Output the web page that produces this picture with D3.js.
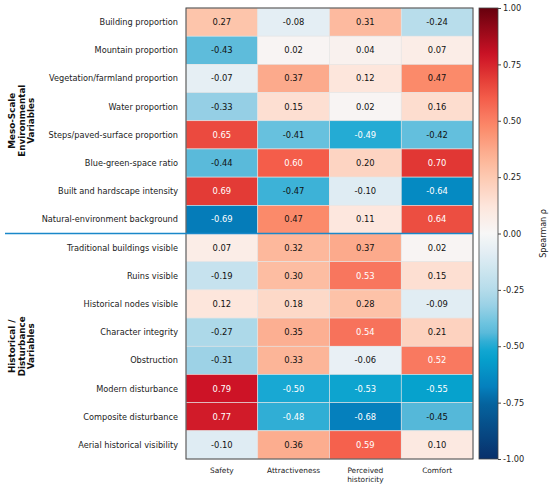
<!DOCTYPE html>
<html>
<head>
<meta charset="utf-8">
<script src="https://cdn.jsdelivr.net/npm/d3@7"></script>
<style>
  body { margin: 0; background: #fff; }
  text { font-family: "DejaVu Sans", sans-serif; }
</style>
</head>
<body>
<div id="chart"></div>
<script>
// Data
const rowLabels = [
    'Building proportion', 'Mountain proportion', 'Vegetation/farmland proportion',
    'Water proportion', 'Steps/paved-surface proportion', 'Blue-green-space ratio',
    'Built and hardscape intensity', 'Natural-environment background',
    'Traditional buildings visible', 'Ruins visible', 'Historical nodes visible',
    'Character integrity', 'Obstruction', 'Modern disturbance',
    'Composite disturbance', 'Aerial historical visibility'
];
const colLabels = ['Safety', 'Attractiveness', 'Perceived historicity', 'Comfort'];
const safety = [0.27, -0.43, -0.07, -0.33, 0.65, -0.44, 0.69, -0.69, 0.07, -0.19, 0.12, -0.27, -0.31, 0.79, 0.77, -0.10];
const attractiveness = [-0.08, 0.02, 0.37, 0.15, -0.41, 0.60, -0.47, 0.47, 0.32, 0.30, 0.18, 0.35, 0.33, -0.50, -0.48, 0.36];
const historicity = [0.31, 0.04, 0.12, 0.02, -0.49, 0.20, -0.10, 0.11, 0.37, 0.53, 0.28, 0.54, -0.06, -0.53, -0.68, 0.59];
const comfort = [-0.24, 0.07, 0.47, 0.16, -0.42, 0.70, -0.64, 0.64, 0.02, 0.15, -0.09, 0.21, 0.52, -0.55, -0.45, 0.10];
const groups = [
    {lines: ['Meso-Scale', 'Environmental', 'Variables'], from: 0, to: 7},
    {lines: ['Historical /', 'Disturbance', 'Variables'], from: 8, to: 15}
];
const cbTicks = [-1, -0.75, -0.5, -0.25, 0, 0.25, 0.5, 0.75, 1];

// Colormap stops (diverging, blue -> white -> red)
const cmapDomain = [-1, -0.75, -0.68, -0.55, -0.5, -0.45, -0.4, -0.33, -0.25, -0.1, 0, 0.12, 0.27, 0.37, 0.47, 0.53, 0.6, 0.69, 0.79, 1];
const cmapRange = ['#08306b', '#05649f', '#0580bd', '#06a2cd', '#18a8d3', '#55b8d9', '#6cc3df', '#95cfe5', '#b5dcea', '#dfecf3',
                   '#f7f7f7', '#fde6dc', '#fdc5ab', '#fcaa8c', '#fb8a6a', '#f8765e', '#f45d4a', '#e33b36', '#cd1326', '#67000d'];

// Layout
const width = 550, height = 488;
const mLeft = 186, mRight = 473, mTop = 8, mBottom = 459;

const svg = d3.select('#chart').append('svg')
    .attr('width', width)
    .attr('height', height);

const x = d3.scaleBand().domain(colLabels).range([mLeft, mRight]);
const y = d3.scaleBand().domain(rowLabels).range([mTop, mBottom]);

const color = d3.scaleLinear()
    .domain(cmapDomain)
    .range(cmapRange)
    .clamp(true);

const series = [safety, attractiveness, historicity, comfort];
const cells = [];
series.forEach((vals, j) => {
    vals.forEach((v, i) => cells.push({row: rowLabels[i], col: colLabels[j], value: v}));
});

// Cells
svg.selectAll('rect.cell')
    .data(cells)
    .enter()
    .append('rect')
    .attr('class', 'cell')
    .attr('x', d => x(d.col))
    .attr('y', d => y(d.row))
    .attr('width', x.bandwidth())
    .attr('height', y.bandwidth())
    .attr('fill', d => color(d.value))
    .attr('stroke', '#e4e4e4')
    .attr('stroke-width', 0.6);

svg.selectAll('text.val')
    .data(cells)
    .enter()
    .append('text')
    .attr('class', 'val')
    .attr('x', d => x(d.col) + x.bandwidth() / 2)
    .attr('y', d => y(d.row) + y.bandwidth() / 2)
    .attr('text-anchor', 'middle')
    .attr('dominant-baseline', 'central')
    .attr('font-size', 8.4)
    .attr('fill', d => Math.abs(d.value) >= 0.48 ? '#fff' : '#111')
    .text(d => d.value.toFixed(2));

// Frame
svg.append('rect')
    .attr('x', mLeft).attr('y', mTop)
    .attr('width', mRight - mLeft).attr('height', mBottom - mTop)
    .attr('fill', 'none')
    .attr('stroke', '#444')
    .attr('stroke-width', 1);

// Separator line between groups
const sepY = y(rowLabels[8]);
svg.append('line')
    .attr('x1', 5).attr('x2', mRight)
    .attr('y1', sepY).attr('y2', sepY)
    .attr('stroke', '#1a88c9')
    .attr('stroke-width', 1.5);

// Row labels
svg.selectAll('text.row')
    .data(rowLabels)
    .enter()
    .append('text')
    .attr('class', 'row')
    .attr('x', mLeft - 8)
    .attr('y', d => y(d) + y.bandwidth() / 2)
    .attr('text-anchor', 'end')
    .attr('dominant-baseline', 'central')
    .attr('font-size', 8.2)
    .attr('fill', '#222')
    .text(d => d);

// Column labels
colLabels.forEach(c => {
    const words = c === 'Perceived historicity' ? ['Perceived', 'historicity'] : [c];
    const t = svg.append('text')
        .attr('x', x(c) + x.bandwidth() / 2)
        .attr('y', mBottom + 14)
        .attr('text-anchor', 'middle')
        .attr('font-size', 7.4)
        .attr('fill', '#222');
    words.forEach((w, k) => {
        t.append('tspan')
            .attr('x', x(c) + x.bandwidth() / 2)
            .attr('dy', k === 0 ? 0 : 8.6)
            .text(w);
    });
});

// Group labels
groups.forEach(g => {
    const cy = (y(rowLabels[g.from]) + y(rowLabels[g.to]) + y.bandwidth()) / 2;
    const t = svg.append('text')
        .attr('transform', `translate(21.5,${cy}) rotate(-90)`)
        .attr('text-anchor', 'middle')
        .attr('font-size', 8.8)
        .attr('font-weight', 'bold')
        .attr('fill', '#111');
    g.lines.forEach((l, k) => {
        t.append('tspan')
            .attr('x', 0)
            .attr('y', (k - 1) * 9.4 + 3.1)
            .text(l);
    });
});

// Colorbar
const cbX = 479, cbW = 19;
const cbScale = d3.scaleLinear().domain([-1, 1]).range([mBottom, mTop]);
const defs = svg.append('defs');
const grad = defs.append('linearGradient')
    .attr('id', 'cbgrad')
    .attr('x1', 0).attr('y1', 1).attr('x2', 0).attr('y2', 0);
d3.range(0, 1.0001, 0.02).forEach(t => {
    grad.append('stop')
        .attr('offset', t)
        .attr('stop-color', color(-1 + 2 * t));
});
svg.append('rect')
    .attr('x', cbX).attr('y', mTop)
    .attr('width', cbW).attr('height', mBottom - mTop)
    .attr('fill', 'url(#cbgrad)')
    .attr('stroke', '#444')
    .attr('stroke-width', 0.8);

const cbAxis = svg.append('g')
    .attr('transform', `translate(${cbX + cbW},0)`)
    .call(d3.axisRight(cbScale).tickValues(cbTicks).tickSize(3).tickPadding(2).tickFormat(d => d.toFixed(2)));
cbAxis.select('.domain').remove();
cbAxis.selectAll('text')
    .attr('font-size', 8.2)
    .attr('fill', '#222')
    .style('font-family', '"DejaVu Sans", sans-serif');
cbAxis.selectAll('line').attr('stroke', '#444');

svg.append('text')
    .attr('transform', `translate(543,${(mTop + mBottom) / 2}) rotate(-90)`)
    .attr('text-anchor', 'middle')
    .attr('dominant-baseline', 'central')
    .attr('font-size', 8)
    .attr('fill', '#222')
    .text('Spearman ρ');
</script>
</body>
</html>
